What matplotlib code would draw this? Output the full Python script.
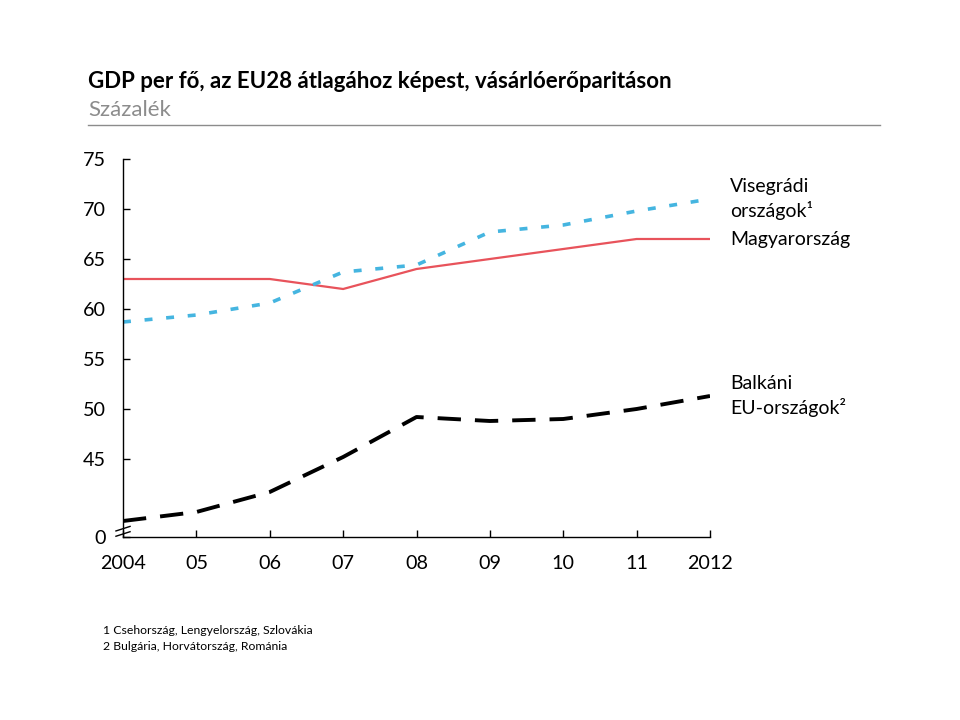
import matplotlib.pyplot as plt

plt.rcParams['font.family'] = ['Lato', 'DejaVu Sans']

# --- data ---
years = [2004, 2005, 2006, 2007, 2008, 2009, 2010, 2011, 2012]
year_labels = ['2004', '05', '06', '07', '08', '09', '10', '11', '2012']
visegrad = [58.7, 59.4, 60.6, 63.7, 64.4, 67.7, 68.4, 69.8, 71.0]
hungary = [63, 63, 63, 62, 64, 65, 66, 67, 67]
balkan = [38.8, 39.7, 41.7, 45.2, 49.2, 48.8, 49.0, 50.0, 51.3]
y_ticks = [45, 50, 55, 60, 65, 70, 75]

title = 'GDP per fő, az EU28 átlagához képest, vásárlóerőparitáson'
subtitle = 'Százalék'
notes = ['1 Csehország, Lengyelország, Szlovákia',
         '2 Bulgária, Horvátország, Románia']

# --- figure ---
fig = plt.figure(figsize=(9.6, 7.2), dpi=100)
ax = fig.add_axes([123 / 960, 1 - 537 / 720, (710 - 123) / 960, (537 - 159) / 720])

y_bottom = 37.2  # broken axis: bottom of the plot is labelled 0

ax.plot(years, hungary, color='#e8535b', lw=1.6, solid_capstyle='butt')
ax.plot(years, visegrad, color='#45b5e0', lw=2.6, linestyle=(0, (2.2, 3.8)))
ax.plot(years, balkan, color='black', lw=2.8, linestyle=(0, (6.0, 3.6)))

ax.set_xlim(years[0], years[-1])
ax.set_ylim(y_bottom, 75)
ax.set_xticks(years)
ax.set_xticklabels(year_labels)
ax.set_yticks([y_bottom] + y_ticks)
ax.set_yticklabels(['0'] + [str(t) for t in y_ticks])

for side in ('top', 'right'):
    ax.spines[side].set_visible(False)
for side in ('left', 'bottom'):
    ax.spines[side].set_linewidth(1.0)
ax.tick_params(direction='in', length=5, width=1.0, labelsize=14.2)
ax.tick_params(axis='x', pad=13)
ax.tick_params(axis='y', pad=12.5)

# axis break marks
kw = dict(transform=ax.transAxes, color='black', lw=1.0, clip_on=False)
for dy in (0.022, 0.008):
    ax.plot([-0.012, 0.012], [dy - 0.006, dy + 0.006], **kw)

# right-hand series labels
lab = dict(textcoords='offset points', xytext=(14.5, 0), va='center', ha='left', fontsize=14)
ax.annotate('Visegrádi\nországok¹', xy=(years[-1], visegrad[-1]), linespacing=1.4, **lab)
ax.annotate('Magyarország', xy=(years[-1], hungary[-1]), **lab)
ax.annotate('Balkáni\nEU-országok²', xy=(years[-1], balkan[-1]), linespacing=1.4, **lab)

# title block
fig.text(88 / 960, 1 - 82 / 720, title, fontsize=16, fontweight='bold', va='center')
fig.text(88 / 960, 1 - 110 / 720, subtitle, fontsize=16, color='#8c8c8c', va='center')
fig.add_artist(plt.Line2D([88 / 960, 880 / 960], [1 - 125 / 720, 1 - 125 / 720],
                          color='#8c8c8c', lw=1.0))

# footnotes
for i, note in enumerate(notes):
    fig.text(103 / 960, 1 - (630 + 16 * i) / 720, note, fontsize=8.8, va='center')

fig.savefig('out.png', dpi=100)
